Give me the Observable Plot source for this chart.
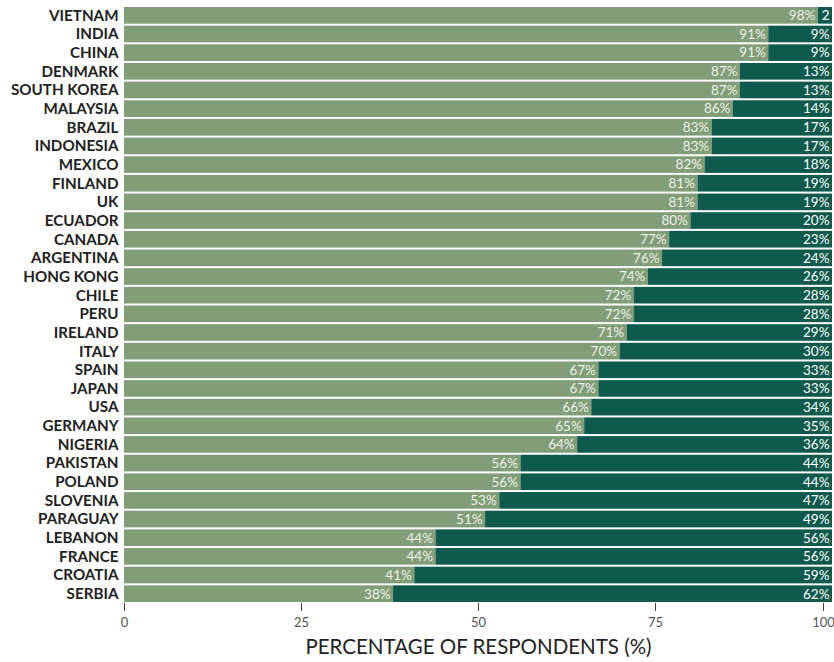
<!DOCTYPE html>
<html><head><meta charset="utf-8">
<script src="https://cdn.jsdelivr.net/npm/d3@7"></script>
<script src="https://cdn.jsdelivr.net/npm/@observablehq/plot@0.6"></script>
<style>
body{margin:0;background:#fff;}
svg{font-family:"Lato","DejaVu Sans",sans-serif;}
</style></head>
<body><div id="chart"></div>
<script>
const countries = ["VIETNAM","INDIA","CHINA","DENMARK","SOUTH KOREA","MALAYSIA","BRAZIL","INDONESIA","MEXICO","FINLAND","UK","ECUADOR","CANADA","ARGENTINA","HONG KONG","CHILE","PERU","IRELAND","ITALY","SPAIN","JAPAN","USA","GERMANY","NIGERIA","PAKISTAN","POLAND","SLOVENIA","PARAGUAY","LEBANON","FRANCE","CROATIA","SERBIA"];
const yesValues = [98,91,91,87,87,86,83,83,82,81,81,80,77,76,74,72,72,71,70,67,67,66,65,64,56,56,53,51,44,44,41,38];
const noValues = [2,9,9,13,13,14,17,17,18,19,19,20,23,24,26,28,28,29,30,33,33,34,35,36,44,44,47,49,56,56,59,62];
const xTicks = [0,25,50,75];
const xLastTick = [100];
const xTitle = "PERCENTAGE OF RESPONDENTS (%)";

const rows = [];
countries.forEach((c,i)=>{
  rows.push({country:c, group:"yes", value:yesValues[i], start:0, end:yesValues[i], label:yesValues[i]+"%"});
  rows.push({country:c, group:"no", value:noValues[i], start:yesValues[i], end:yesValues[i]+noValues[i], label: noValues[i] < 5 ? String(noValues[i]) : noValues[i]+"%"});
});

const chart = Plot.plot({
  width:834, height:662,
  marginLeft:124, marginRight:2, marginTop:6, marginBottom:59,
  x:{domain:[0,100], label:xTitle},
  y:{domain:countries, padding:0, round:false, label:null, tickSize:0},
  color:{domain:["yes","no"], range:["#819e79","#0f5a4d"]},
  marks:[
    Plot.barX(rows,{y:"country", x1:"start", x2:"end", fill:"group", insetTop:1, insetBottom:1}),
    Plot.text(rows,{y:"country", x:"end", text:"label", textAnchor:"end", dx:-3,
      fill:d=>d.group==="yes" ? "#eef3e8" : "#ffffff", fontSize:13.5}),
    Plot.axisX({ticks:xTicks, tickSize:8, stroke:"#444", fill:"#555", fontSize:13, tickPadding:6, label:xTitle, labelAnchor:"center", labelArrow:"none", labelOffset:50}),
    Plot.axisX({ticks:xLastTick, tickSize:8, stroke:"#444", fill:"#555", fontSize:13, tickPadding:6, dx:-9, label:null}),
    Plot.axisY({tickSize:0, tickPadding:6, fill:"#222", fontWeight:"bold", fontSize:15.2, label:null})
  ]
});
chart.querySelectorAll("g[aria-label='x-axis label']").forEach(e=>{e.setAttribute("font-size","20.5");e.setAttribute("fill","#222");});
document.getElementById("chart").appendChild(chart);
</script></body></html>
